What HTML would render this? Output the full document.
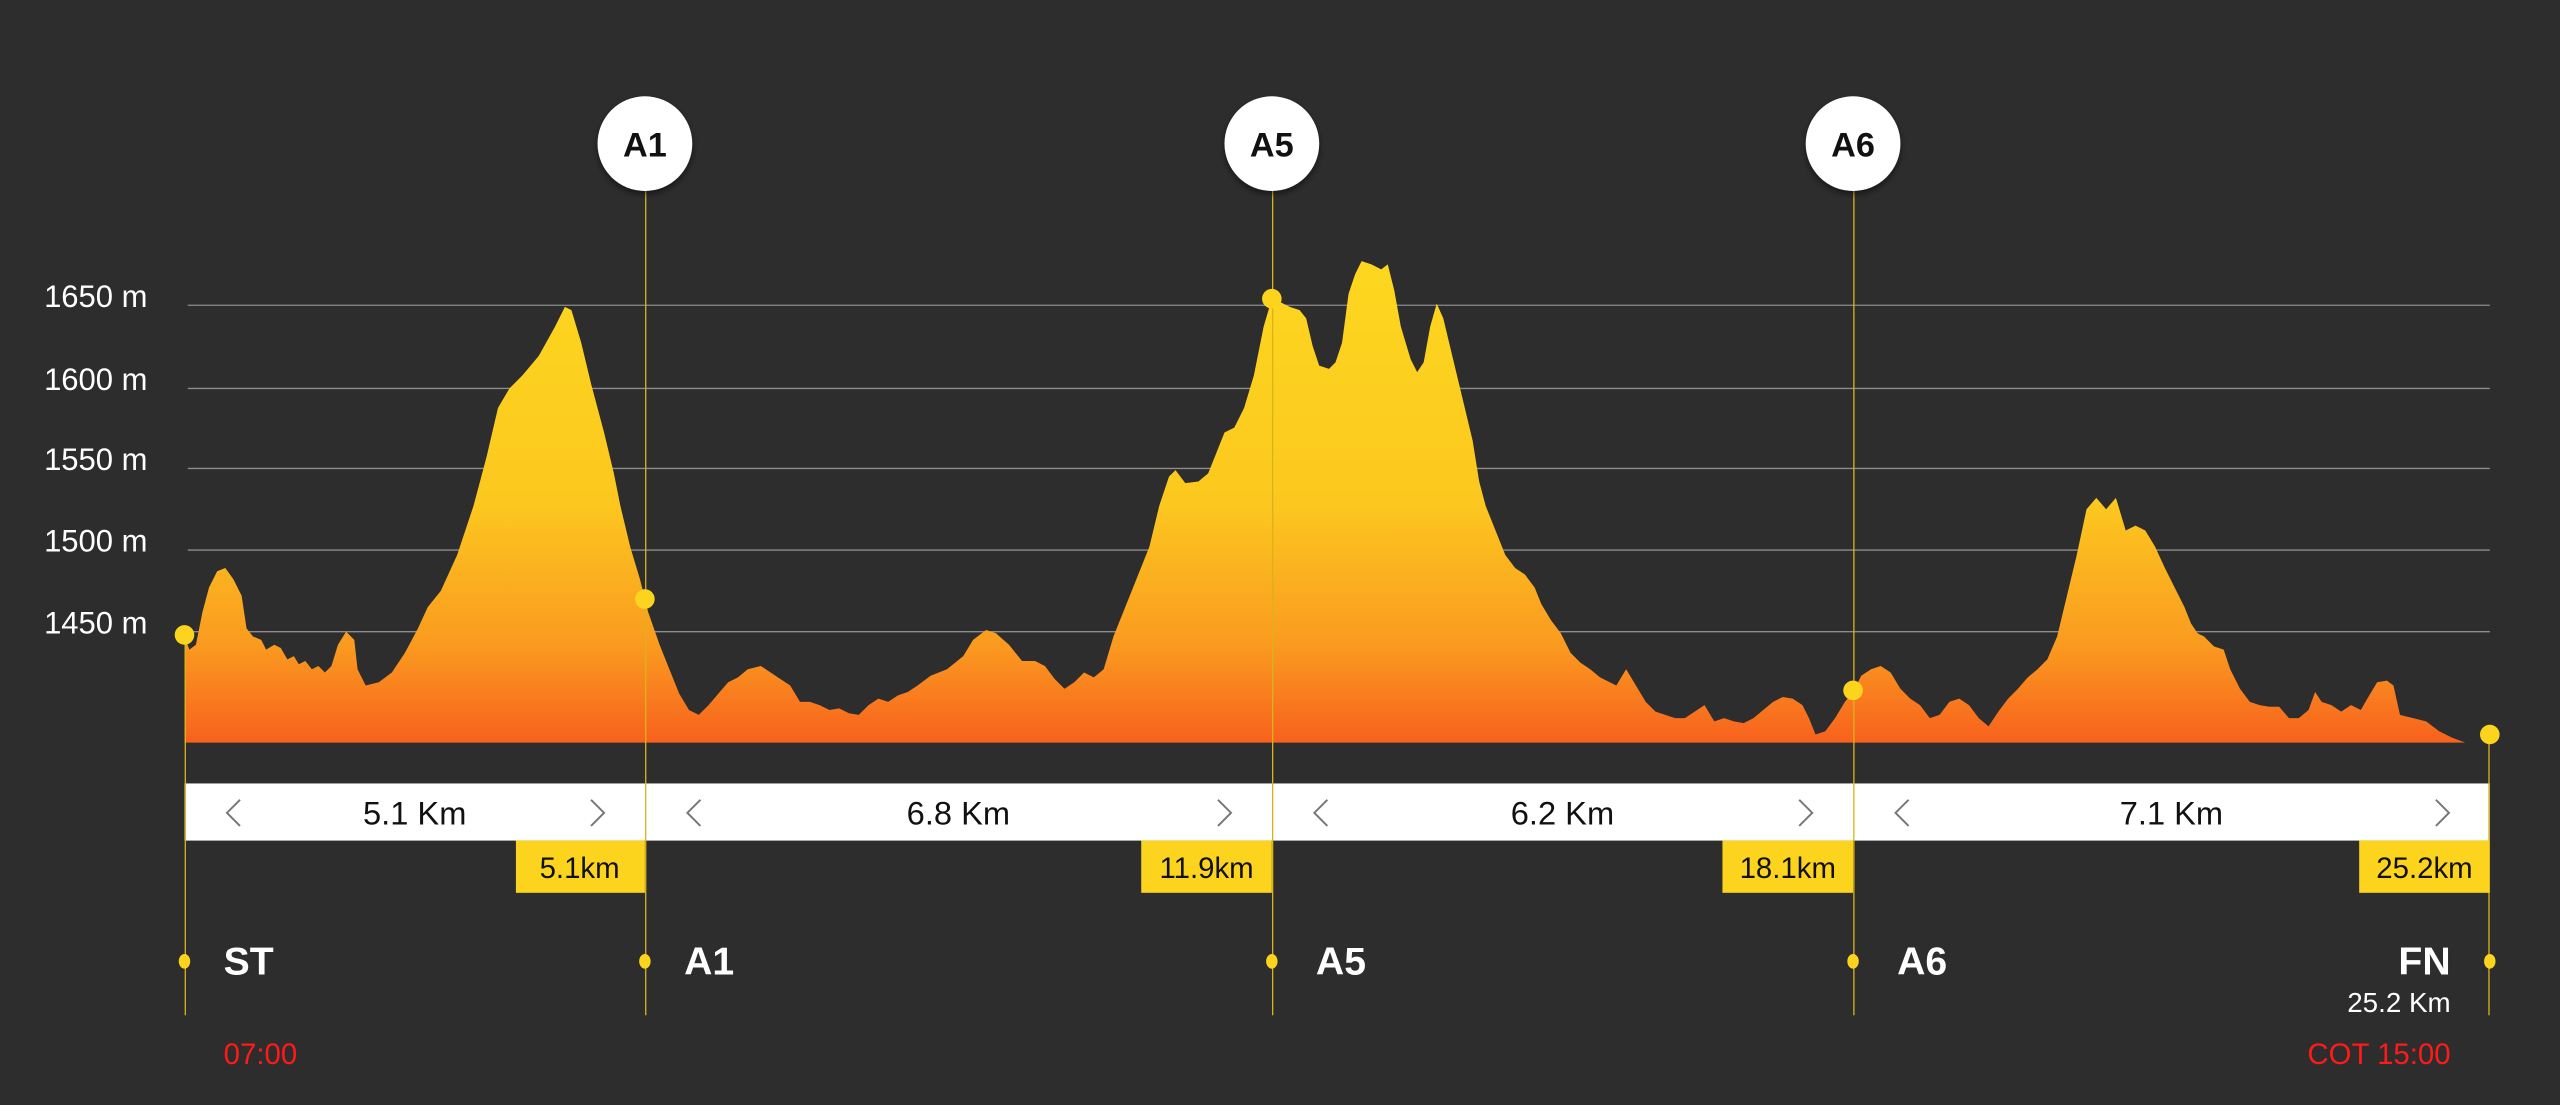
<!DOCTYPE html>
<html><head><meta charset="utf-8"><style>
html,body{margin:0;padding:0;background:#2d2d2d;}
svg{display:block;}
text{font-family:"Liberation Sans",sans-serif;}
</style></head><body>
<svg width="2560" height="1105" viewBox="0 0 1568 677" preserveAspectRatio="none" xmlns="http://www.w3.org/2000/svg">
<defs>
<linearGradient id="g" gradientUnits="userSpaceOnUse" x1="0" y1="160" x2="0" y2="455">
<stop offset="0" stop-color="#fdd71f"/><stop offset="0.5" stop-color="#fcc81f"/><stop offset="0.8" stop-color="#fa9a1f"/><stop offset="1" stop-color="#f8611e"/>
</linearGradient>
<filter id="sh" x="-30%" y="-30%" width="160%" height="160%"><feDropShadow dx="0" dy="2" stdDeviation="2" flood-color="#000" flood-opacity="0.5"/></filter>
</defs>
<rect width="1568" height="677" fill="#2d2d2d"/>
<g fill="#fff" font-size="19">
<text x="27" y="188">1650 m</text><text x="27" y="239">1600 m</text><text x="27" y="288">1550 m</text><text x="27" y="338">1500 m</text><text x="27" y="388">1450 m</text>
</g>
<g stroke="#8c8c8c" stroke-width="0.8">
<line x1="115" y1="187" x2="1525" y2="187"/><line x1="115" y1="238" x2="1525" y2="238"/><line x1="115" y1="287" x2="1525" y2="287"/><line x1="115" y1="337" x2="1525" y2="337"/><line x1="115" y1="387" x2="1525" y2="387"/>
</g>
<path fill="url(#g)" d="M113,455 L113,390 L116,398 L120,395 L124,375 L128,360 L133,350 L138,348 L143,355 L148,365 L151,385 L155,390 L160,392 L163,398 L168,395 L172,397 L176,404 L180,402 L183,407 L187,405 L191,410 L195,408 L199,412 L203,408 L207,395 L212,387 L217,392 L219,410 L224,420 L232,418 L240,412 L248,400 L256,385 L262,372 L270,362 L280,340 L290,310 L298,280 L305,250 L312,238 L320,230 L330,218 L340,200 L346,188 L350,190 L356,210 L362,235 L370,265 L376,290 L380,310 L386,335 L392,355 L397,375 L404,395 L410,410 L416,425 L422,435 L428,438 L434,432 L440,425 L446,418 L452,415 L458,410 L466,408 L472,412 L478,416 L484,420 L490,430 L496,430 L502,432 L508,435 L514,434 L520,437 L526,438 L532,432 L538,428 L544,430 L550,426 L556,424 L562,420 L570,414 L580,410 L590,402 L596,392 L604,386 L610,388 L618,395 L626,405 L634,405 L640,408 L646,416 L652,422 L658,418 L664,412 L670,415 L676,410 L682,390 L690,370 L698,350 L704,335 L710,310 L716,292 L720,288 L726,296 L734,295 L740,290 L746,275 L750,265 L756,262 L762,250 L768,230 L774,200 L779,183 L784,185 L790,188 L796,190 L800,195 L804,212 L808,224 L814,226 L818,222 L822,210 L826,180 L830,168 L834,160 L840,162 L846,165 L850,162 L854,178 L858,200 L864,220 L868,228 L872,222 L876,200 L880,186 L884,195 L890,220 L896,245 L902,270 L906,295 L910,310 L916,325 L922,340 L928,348 L934,352 L940,360 L944,370 L950,380 L956,388 L962,400 L968,406 L974,410 L980,415 L986,418 L990,420 L996,410 L1002,420 L1008,430 L1014,436 L1020,438 L1026,440 L1032,440 L1038,436 L1044,432 L1050,442 L1056,440 L1062,442 L1068,443 L1074,440 L1080,435 L1086,430 L1092,427 L1098,428 L1104,432 L1108,440 L1112,450 L1118,448 L1124,440 L1130,430 L1135,424 L1140,414 L1146,410 L1152,408 L1158,412 L1164,422 L1170,428 L1176,432 L1182,440 L1188,438 L1194,430 L1200,428 L1206,432 L1212,440 L1218,445 L1224,436 L1230,428 L1236,422 L1242,415 L1248,410 L1254,404 L1260,390 L1266,365 L1272,340 L1278,312 L1284,305 L1290,312 L1296,305 L1302,325 L1308,322 L1314,325 L1320,335 L1326,348 L1332,360 L1338,372 L1342,382 L1346,388 L1350,390 L1356,396 L1362,398 L1366,410 L1372,422 L1378,430 L1384,432 L1390,433 L1396,433 L1402,440 L1408,440 L1414,435 L1418,424 L1422,430 L1428,432 L1434,436 L1440,432 L1446,435 L1450,428 L1456,418 L1462,417 L1466,420 L1470,438 L1478,440 L1486,442 L1494,448 L1502,452 L1510,455 L1525,455 Z"/>
<rect x="113" y="480" width="1412" height="35" fill="#fff"/>
<g stroke="#d9b418" stroke-width="0.8">
<line x1="113.5" y1="390" x2="113.5" y2="622"/><line x1="395.5" y1="115" x2="395.5" y2="622"/><line x1="779.5" y1="115" x2="779.5" y2="622"/><line x1="1135.5" y1="115" x2="1135.5" y2="622"/><line x1="1524.5" y1="450" x2="1524.5" y2="622"/>
</g>
<g fill="none" stroke="#777" stroke-width="1.2">
<path d="M147,490 L139,498 L147,506"/><path d="M362,490 L370,498 L362,506"/>
<path d="M429,490 L421,498 L429,506"/><path d="M746,490 L754,498 L746,506"/>
<path d="M813,490 L805,498 L813,506"/><path d="M1102,490 L1110,498 L1102,506"/>
<path d="M1169,490 L1161,498 L1169,506"/><path d="M1492,490 L1500,498 L1492,506"/>
</g>
<g fill="#111" font-size="20" text-anchor="middle">
<text x="254" y="505">5.1 Km</text><text x="587" y="505">6.8 Km</text><text x="957" y="505">6.2 Km</text><text x="1330" y="505">7.1 Km</text>
</g>
<g fill="#fcd41e">
<rect x="316" y="515" width="79" height="32"/><rect x="699" y="515" width="80" height="32"/><rect x="1055" y="515" width="80" height="32"/><rect x="1445" y="515" width="80" height="32"/>
</g>
<g fill="#111" font-size="18" text-anchor="middle">
<text x="355" y="538">5.1km</text><text x="739" y="538">11.9km</text><text x="1095" y="538">18.1km</text><text x="1485" y="538">25.2km</text>
</g>
<g fill="#fcd41e">
<circle cx="113" cy="389" r="6"/><circle cx="395" cy="367" r="6"/><circle cx="779" cy="183" r="6"/><circle cx="1135" cy="423" r="6"/><circle cx="1525" cy="450" r="6"/>
<ellipse cx="113" cy="589" rx="3.5" ry="4.5"/><ellipse cx="395" cy="589" rx="3.5" ry="4.5"/><ellipse cx="779" cy="589" rx="3.5" ry="4.5"/><ellipse cx="1135" cy="589" rx="3.5" ry="4.5"/><ellipse cx="1525" cy="589" rx="3.5" ry="4.5"/>
</g>
<g fill="#fff" filter="url(#sh)">
<circle cx="395" cy="88" r="29"/><circle cx="779" cy="88" r="29"/><circle cx="1135" cy="88" r="29"/>
</g>
<g fill="#111" font-size="21" font-weight="bold" text-anchor="middle">
<text x="395" y="96">A1</text><text x="779" y="96">A5</text><text x="1135" y="96">A6</text>
</g>
<g fill="#fff" font-size="24" font-weight="bold">
<text x="137" y="597">ST</text><text x="419" y="597">A1</text><text x="806" y="597">A5</text><text x="1162" y="597">A6</text><text x="1501" y="597" text-anchor="end">FN</text>
</g>
<text x="1501" y="620" fill="#fff" font-size="17" text-anchor="end">25.2 Km</text>
<text x="137" y="652" fill="#ff1a1a" font-size="18">07:00</text>
<text x="1501" y="652" fill="#ff1a1a" font-size="18" text-anchor="end">COT 15:00</text>
</svg>
</body></html>
